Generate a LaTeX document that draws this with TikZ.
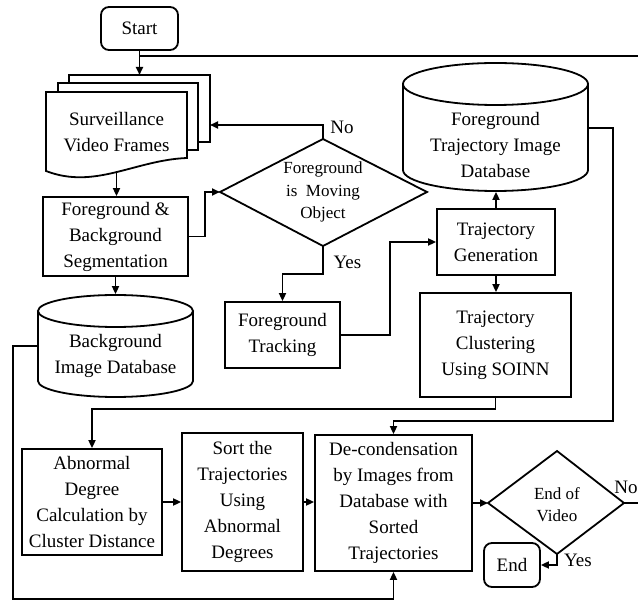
\documentclass[tikz,border=0pt]{standalone}
\usepackage{fontspec}
\setmainfont{Liberation Serif}
\usetikzlibrary{arrows.meta}
\begin{document}
\begin{tikzpicture}[x=1pt,y=-1pt, line width=1.8pt,
  box/.style={draw, align=center, inner sep=0pt, font=\fontsize{19}{26}\selectfont},
  ghost/.style={align=center, inner sep=0pt, font=\fontsize{19}{26}\selectfont},
  small/.style={align=center, inner sep=0pt, font=\fontsize{17}{22.5}\selectfont},
  arr/.style={-{Triangle[length=8pt,width=7pt]}},
  lbl/.style={inner sep=0pt, font=\fontsize{19}{22}\selectfont},
  term/.style={draw, rounded corners=8pt, inner sep=0pt, font=\fontsize{19}{22}\selectfont}]
\useasboundingbox (0,0) rectangle (638,601);

% terminals
\node[term, minimum width=77pt, minimum height=43pt] (start) at (139.5,28.5) {Start};
\node[term, minimum width=56pt, minimum height=44pt] (end) at (512,565) {End};

% document stack
\draw (69,83) -- (69,75) -- (210,75) -- (210,142) -- (198,142);
\draw (58,92) -- (58,83) -- (198,83) -- (198,150) -- (187,150);
\draw[fill=white] (46,92) -- (187,92) -- (187,158) .. controls (135,160) and (95,190) .. (46,171) -- cycle;
\node[ghost, minimum width=141pt, minimum height=80pt] (svf) at (116.5,132) {Surveillance\\Video Frames};
\coordinate (svfback) at (139.5,75);
\coordinate (svfR) at (210,125);

% boxes
\node[box, minimum width=145pt, minimum height=79pt] (fbs) at (115.5,236.5) {Foreground \&\\Background\\Segmentation};
\node[box, minimum width=115pt, minimum height=66pt] (ft) at (282.5,335) {Foreground\\Tracking};
\node[box, minimum width=118pt, minimum height=66pt] (tg) at (496,242) {Trajectory\\Generation};
\node[box, minimum width=151pt, minimum height=104pt] (tc) at (495.5,345) {Trajectory\\Clustering\\Using SOINN};
\node[box, minimum width=140pt, minimum height=106pt] (ab) at (92,502) {Abnormal\\Degree\\Calculation by\\Cluster Distance};
\node[box, minimum width=121pt, minimum height=138pt] (sort) at (242.5,502) {Sort the\\Trajectories\\Using\\Abnormal\\Degrees};
\node[box, minimum width=157pt, minimum height=136pt] (dc) at (393.5,503) {De-condensation\\by Images from\\Database with\\Sorted\\Trajectories};

% cylinders
\node[ghost, minimum width=185pt, minimum height=129pt] (ftid) at (495.5,126.5) {};
\draw (495.5,84) ellipse [x radius=92.5, y radius=21];
\draw (403,84) -- (403,170) arc [start angle=180, end angle=0, x radius=92.5, y radius=21] -- (588,84);
\node[ghost] (ftidtext) at (495.5,145) {Foreground\\Trajectory Image\\Database};

\node[ghost, minimum width=155pt, minimum height=102pt] (bid) at (115.5,346) {};
\draw (115.5,311) ellipse [x radius=77.5, y radius=16];
\draw (38,311) -- (38,381) arc [start angle=180, end angle=0, x radius=77.5, y radius=16] -- (193,311);
\node[ghost] (bidtext) at (115.5,355.5) {Background\\Image Database};

% decision 1
\coordinate (dmL) at (220,192);
\coordinate (dmT) at (323,139);
\coordinate (dmR) at (427,192);
\coordinate (dmB) at (323,246);
\draw (dmL) -- (dmT) -- (dmR) -- (dmB) -- cycle;
\node[small] (dm) at (323,192) {Foreground\\is~~Moving\\Object};

% decision 2
\coordinate (eovL) at (488,503);
\coordinate (eovT) at (557,451);
\coordinate (eovR) at (624,503);
\coordinate (eovB) at (557,554);
\draw (eovL) -- (eovT) -- (eovR) -- (eovB) -- cycle;
\node[small] (eov) at (557,504.5) {End of\\Video};

% labels
\node[lbl] (no1) at (342,127) {No};
\node[lbl] (yes1) at (347.5,262) {Yes};
\node[lbl, anchor=west] (no2) at (613.5,487) {No};
\node[lbl] (yes2) at (578,560) {Yes};

% connectors
\draw[arr] (start.south) -- (svfback);
\coordinate (loopA) at (646,503);
\coordinate (loopB) at (646,56);
\coordinate (loopC) at (139.5,56);
\draw (eovR) -- (loopA) -- (loopB) -- (loopC);
\draw[arr] (svf.south) -- (svf.south |- fbs.north);
\draw[arr] (fbs.south) -- (fbs.south |- bid.north);
\draw[arr] (fbs.east) -- ++(16,0) |- (dmL);
\draw[arr] (dmT) -- ++(0,-14) -- (svfR);
\draw[arr] (dmB) -- ++(0,28) -| (ft.north);
\draw[arr] (ft.east) -- ++(49,0) |- (tg.west);
\draw[arr] (tg.north) -- (tg.north |- ftid.south);
\draw[arr] (tg.south) -- (tg.south |- tc.north);
\draw[arr] (tc.south) -- ++(0,11) -| (ab.north);
\draw[arr] (ab.east) -- (sort.west);
\draw[arr] (sort.east) -- (dc.west |- sort.east);
\coordinate (ftidR) at (588,128);
\draw[arr] (ftidR) -- (613,128) -- (613,421) -| (dc.north);
\coordinate (bidL) at (38,346);
\draw[arr] (bidL) -- (13,346) -- (13,599) -| (dc.south);
\draw[arr] (dc.east) -- (eovL);
\draw[arr] (eovB) |- (end.east);
\end{tikzpicture}
\end{document}
